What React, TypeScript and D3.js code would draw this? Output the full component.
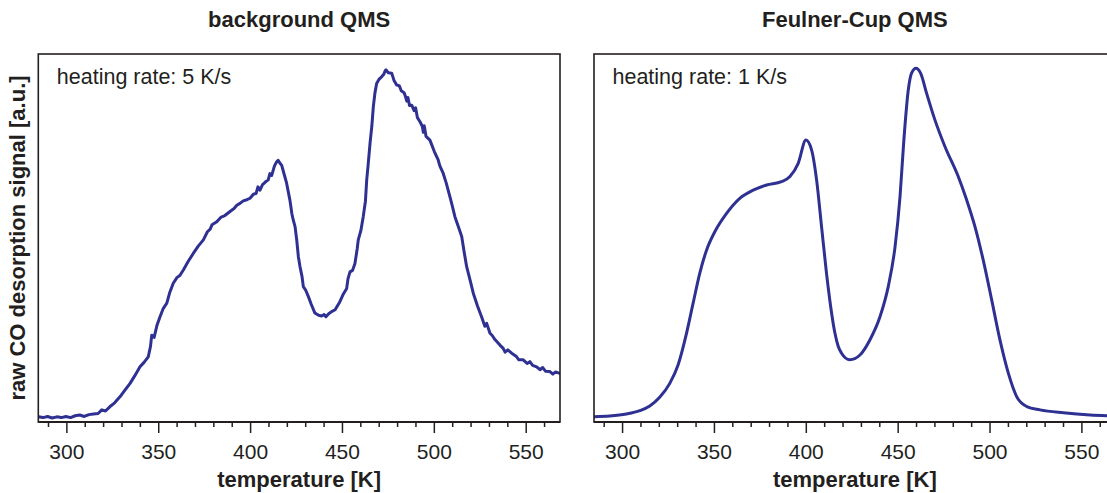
import React from "react";
import * as d3 from "d3";

// ---- data (temperature in K, raw signal in a.u. 0..100) ----
const bgTemps = [
  284.5, 287, 289.5, 292, 294.5, 297, 299.5, 302, 304.5, 307, 309.5, 312, 314.5, 317, 319, 321, 323.5, 326, 329, 331.5,
  334.4, 337, 339.8, 342, 344.3, 345.5, 346.2, 347.5, 349, 350.7, 352.5, 354.4, 356, 357.9, 360, 361.5, 363.4, 366, 368.8, 371.5,
  374.3, 376.5, 378, 379, 381.6, 384, 386, 388.8, 391, 392.5, 394.2, 396, 398, 399.7, 401.5, 403, 404, 405.1, 406.5, 408,
  409.6, 410.5, 411.5, 413, 414.2, 415, 416, 416.9, 418, 419.6, 421.4, 422.5, 423.2, 424.2, 425.1, 426, 426.9, 428, 428.7, 430,
  431.5, 433, 435, 437, 438.7, 440, 441, 442.5, 444.1, 446, 448.6, 450.5, 452.3, 453, 454.1, 455.5, 456.8, 458, 458.6, 460,
  461.3, 462.5, 463.2, 464, 465, 466, 466.8, 467.7, 468.6, 470, 471.3, 472.5, 473.3, 473.7, 475, 476.8, 478, 479.5, 481, 482,
  483.5, 484, 485, 485.6, 486.5, 487.7, 489, 489.8, 490.8, 492.2, 493.5, 494, 494.5, 495.5, 497.6, 500, 502.1, 503, 504.8, 506.5,
  508.5, 509.5, 511.2, 513, 514.9, 516.3, 517.6, 519.5, 521.2, 523.5, 525.7, 527.5, 528.5, 530.3, 531.5, 533, 535.7, 537.5, 538.5, 540,
  542.1, 544.5, 546, 548.4, 550.5, 552, 553.5, 555.7, 557.5, 559, 560.5, 562.9, 564.5, 566, 568.3,
];
const bgSignal = [
  1.4, 1.2, 1.5, 1.1, 1.4, 1.2, 1.5, 1.2, 1.7, 1.9, 1.5, 2.0, 2.2, 2.3, 3.3, 3.0, 4.2, 5.2, 6.9, 8.6,
  10.5, 12.6, 15.0, 16.2, 17.7, 20.5, 23.6, 23.0, 26.2, 28.6, 30.9, 32.3, 35.2, 37.7, 39.3, 39.8, 41.3, 43.6, 45.8, 47.8,
  49.5, 51.7, 52.4, 53.6, 54.4, 55.7, 56.1, 57.2, 58.0, 58.9, 59.4, 60.1, 60.4, 60.8, 61.9, 62.1, 63.9, 63.0, 64.5, 65.2,
  65.8, 67.5, 67.0, 69.6, 70.7, 71.1, 70.3, 69.8, 67.8, 64.9, 60.3, 56.5, 54.9, 53.1, 49.5, 44.9, 42.2, 39.5, 36.8, 35.8,
  34.0, 32.0, 29.6, 29.0, 28.8, 29.2, 28.6, 29.4, 30.0, 30.5, 32.7, 34.8, 36.3, 38.9, 40.8, 41.2, 43.1, 47.0, 49.5, 52.0,
  55.8, 60.0, 65.8, 70.0, 75.7, 80.5, 85.7, 89.5, 92.0, 93.2, 93.8, 94.5, 95.5, 95.7, 94.9, 94.8, 92.9, 91.6, 91.3, 90.0,
  89.5, 88.9, 87.2, 88.2, 86.0, 86.1, 84.6, 85.4, 82.7, 81.6, 80.3, 78.7, 80.5, 77.6, 76.6, 73.5, 71.2, 69.6, 67.6, 64.9,
  61.2, 59.3, 55.8, 53.2, 50.4, 46.0, 42.2, 38.5, 35.0, 31.5, 28.6, 26.0, 26.8, 24.1, 23.5, 22.4, 20.9, 20.0, 19.0, 19.6,
  18.7, 17.9, 16.9, 16.9, 15.9, 16.4, 15.4, 15.0, 14.2, 14.8, 13.8, 13.7, 13.0, 13.6, 13.2,
];

const fcTemps = [
  284.3, 293.0, 302.1, 309.4, 314.8, 320.2, 325.7, 330.2, 334.8, 338.4, 342.0, 345.7, 350.2, 356.6, 363.8, 371.1, 378.4, 386.5,
  391.1, 395.6, 399.8, 402.9, 405.6, 408.3, 411.0, 413.8, 415.6, 417.4, 419.2, 423.7, 429.2, 434.6, 440.1, 444.6, 448.3, 451.0,
  453.1, 455.5, 457.3, 459.7, 462.2, 465.5, 470.0, 475.5, 482.7, 487.3, 491.8, 496.3, 500.9, 505.4, 510.0, 514.5, 520.0, 527.2,
  539.9, 554.5, 568.0,
];
const fcSignal = [
  1.45, 1.63, 2.17, 3.07, 4.35, 6.71, 10.5, 15.5, 24.1, 32.3, 40.4, 46.7, 51.7, 56.7, 60.8, 63.0, 64.4, 65.3,
  66.7, 70.3, 76.6, 73.9, 65.8, 53.1, 40.4, 29.5, 24.1, 20.5, 18.7, 16.9, 18.2, 22.3, 28.6, 36.8, 47.6, 61.2,
  76.6, 90.2, 94.8, 96.1, 94.8, 89.3, 82.1, 74.8, 66.7, 60.3, 53.1, 44.0, 33.2, 22.3, 13.2, 6.9, 4.2, 3.3,
  2.5, 1.9, 1.65,
];

const panelTitles = ["background QMS", "Feulner-Cup QMS"];
const rateLabels = ["heating rate: 5 K/s", "heating rate: 1 K/s"];
const majorTicks = [300, 350, 400, 450, 500, 550];
const minorTicks = [290, 310, 320, 330, 340, 360, 370, 380, 390, 410, 420, 430, 440, 460, 470, 480, 490, 510, 520, 530, 540, 560];
const xLabel = "temperature [K]";
const yLabel = "raw CO desorption signal [a.u.]";

const W = 1107;
const H = 493;
const FONT = "'Liberation Sans', Arial, Helvetica, sans-serif";
const INK = "#231f20";
const LINE = "#2e3192";

type PanelProps = {
  left: number;
  right: number;
  temps: number[];
  signal: number[];
  title: string;
  rate: string;
  smooth: boolean;
  clipId: string;
};

function Panel({ left, right, temps, signal, title, rate, smooth, clipId }: PanelProps) {
  const top = 54;
  const bottom = 422;
  const x = d3.scaleLinear().domain([284.45, 568.4]).range([left, right]);
  const y = d3.scaleLinear().domain([0, 100]).range([bottom, top]);
  const pts: [number, number][] = temps.map((t, i) => [t, signal[i]]);
  const line = d3
    .line<[number, number]>()
    .x((d) => x(d[0]))
    .y((d) => y(d[1]))
    .curve(smooth ? d3.curveMonotoneX : d3.curveLinear);
  const cx = (left + right) / 2;
  return (
    <g>
      <text x={cx} y={27} textAnchor="middle" fontFamily={FONT} fontWeight="bold" fontSize={22} fill={INK}>
        {title}
      </text>
      <clipPath id={clipId}>
        <rect x={left} y={top - 10} width={right - left} height={bottom - top + 10} />
      </clipPath>
      <path
        d={line(pts) || ""}
        fill="none"
        stroke={LINE}
        strokeWidth={3}
        strokeLinejoin="round"
        strokeLinecap="round"
        clipPath={`url(#${clipId})`}
      />
      <rect x={left} y={top} width={right - left} height={bottom - top} fill="none" stroke={INK} strokeWidth={1.6} />
      <line x1={left} x2={right} y1={bottom} y2={bottom} stroke={INK} strokeWidth={2} />
      {minorTicks.map((t) => (
        <line key={"m" + t} x1={x(t)} x2={x(t)} y1={bottom} y2={bottom + 5} stroke={INK} strokeWidth={1.5} />
      ))}
      {majorTicks.map((t) => (
        <g key={"M" + t}>
          <line x1={x(t)} x2={x(t)} y1={bottom} y2={bottom + 11} stroke={INK} strokeWidth={1.5} />
          <text x={x(t)} y={459} textAnchor="middle" fontFamily={FONT} fontSize={21} fill={INK}>
            {t}
          </text>
        </g>
      ))}
      <text x={cx} y={487} textAnchor="middle" fontFamily={FONT} fontWeight="bold" fontSize={22} fill={INK}>
        {xLabel}
      </text>
      <text x={left + 18.5} y={84} fontFamily={FONT} fontSize={21.5} fill={INK}>
        {rate}
      </text>
    </g>
  );
}

export default function App() {
  return (
    <svg
      width={W}
      height={H}
      style={{ position: "absolute", left: 0, top: 0, background: "#fff" }}
      viewBox={`0 0 ${W} ${H}`}
    >
      <rect x={0} y={0} width={W} height={H} fill="#fff" />
      <Panel left={38.3} right={560} temps={bgTemps} signal={bgSignal} title={panelTitles[0]} rate={rateLabels[0]} smooth={false} clipId="c1" />
      <Panel left={594} right={1115.7} temps={fcTemps} signal={fcSignal} title={panelTitles[1]} rate={rateLabels[1]} smooth={true} clipId="c2" />
      <text
        transform="translate(25,238) rotate(-90)"
        textAnchor="middle"
        fontFamily={FONT}
        fontWeight="bold"
        fontSize={22}
        fill={INK}
      >
        {yLabel}
      </text>
    </svg>
  );
}
